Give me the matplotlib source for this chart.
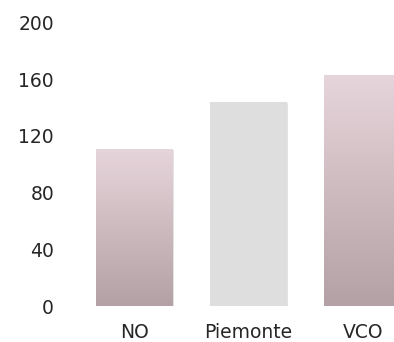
import numpy as np
import matplotlib
matplotlib.use("Agg")
import matplotlib.pyplot as plt
from matplotlib.colors import LinearSegmentedColormap
import matplotlib.patheffects as pe

categories = ["NO", "Piemonte", "VCO"]
values = [111, 144, 163]
yticks = [0, 40, 80, 120, 160, 200]

plt.rcParams['font.family'] = ['DejaVu Sans']

fig = plt.figure(figsize=(3.94, 3.42), dpi=100)
# axes extends past the right edge so the last bar is cropped
ax = fig.add_axes([0.197, 0.105, 0.868, 0.83])

x = np.arange(len(categories))
bars = ax.bar(x, values, width=0.675, color="#dedede", zorder=2,
              path_effects=[pe.SimplePatchShadow(offset=(1, -1), shadow_rgbFace="#c8c8c8", alpha=0.5),
                            pe.Normal()])

pink = LinearSegmentedColormap.from_list("pink", ["#b4a1a6", "#e6d5da"])
grad = np.linspace(0, 1, 256).reshape(-1, 1)
for i, b in enumerate(bars):
    if categories[i] == "Piemonte":
        continue
    x0, w, h = b.get_x(), b.get_width(), b.get_height()
    im = ax.imshow(grad, cmap=pink, origin="lower", aspect="auto",
                   extent=[x0, x0 + w, 0, h], zorder=3)
    im.set_clip_path(b)

ax.set_xlim(-0.5, 2.5)
ax.set_ylim(0, 200)
ax.set_yticks(yticks)
ax.set_xticks(x)
ax.set_xticklabels(categories)
for s in ax.spines.values():
    s.set_visible(False)
ax.tick_params(length=0, labelsize=13.5, colors="#262626")
ax.tick_params(axis="y", pad=17)
ax.tick_params(axis="x", pad=12)

fig.savefig("out.png", dpi=100)
